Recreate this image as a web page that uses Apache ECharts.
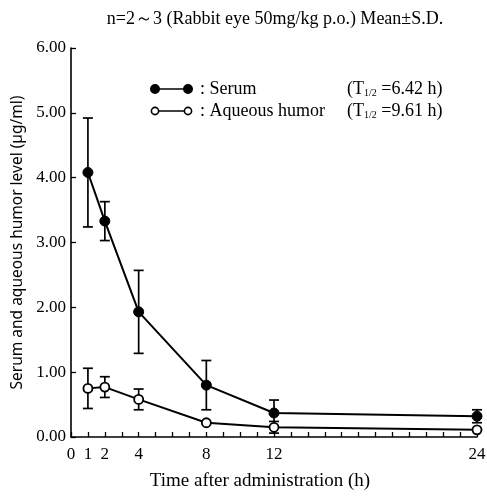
<!DOCTYPE html>
<html>
<head>
<meta charset="utf-8">
<script src="https://cdn.jsdelivr.net/npm/echarts@6/dist/echarts.min.js"></script>
<style>
  html, body { margin: 0; padding: 0; background: #fff; }
  #chart { width: 487px; height: 498px; }
</style>
</head>
<body>
<div id="chart"></div>
<script>
// time points (h)
const hours = [1, 2, 4, 8, 12, 24]
const xTickLabels = [0, 1, 2, 4, 8, 12, 24]
const yTickLabels = [0, 1, 2, 3, 4, 5, 6]

// mean and S.D. (µg/ml)
const serumMean = [4.08, 3.33, 1.93, 0.80, 0.37, 0.32]
const serumSD = [0.84, 0.30, 0.64, 0.38, 0.20, 0.10]
const aqueousMean = [0.75, 0.77, 0.58, 0.22, 0.15, 0.11]
const aqueousSD = [0.31, 0.16, 0.16, 0.00, 0.09, 0.00]

const serif = '"Liberation Serif", "DejaVu Serif", serif'
const myChart = echarts.init(document.getElementById('chart'))

const toPoints = (means) => hours.map((h, i) => [h, means[i]])
const toBars = (means, sds) => hours.map((h, i) => [h, means[i] - sds[i], means[i] + sds[i]])

// error bars drawn with a custom series
const errorSeries = (means, sds) => ({
  type: 'custom',
  silent: true,
  z: 1,
  data: toBars(means, sds),
  renderItem: function (params, api) {
    const lo = api.coord([api.value(0), api.value(1)])
    const hi = api.coord([api.value(0), api.value(2)])
    const w = 5
    const style = { stroke: '#000', lineWidth: 1.7 }
    return {
      type: 'group',
      children: [
        { type: 'line', shape: { x1: lo[0], y1: lo[1], x2: hi[0], y2: hi[1] }, style: style },
        { type: 'line', shape: { x1: lo[0] - w, y1: lo[1], x2: lo[0] + w, y2: lo[1] }, style: style },
        { type: 'line', shape: { x1: hi[0] - w, y1: hi[1], x2: hi[0] + w, y2: hi[1] }, style: style }
      ]
    }
  }
})

// legend drawn by hand: line with a marker on both ends
const legendRow = (y, filled, name, half) => [
  { type: 'line', shape: { x1: 155, y1: y, x2: 188, y2: y }, style: { stroke: '#000', lineWidth: 1.6 } },
  { type: 'circle', shape: { cx: 155, cy: y, r: filled ? 4.2 : 3.6 }, style: { fill: filled ? '#000' : '#fff', stroke: '#000', lineWidth: 1.6 } },
  { type: 'circle', shape: { cx: 188, cy: y, r: filled ? 4.2 : 3.6 }, style: { fill: filled ? '#000' : '#fff', stroke: '#000', lineWidth: 1.6 } },
  { type: 'text', x: 200, y: y, style: { text: ': ' + name, font: '18px ' + serif, fill: '#000', verticalAlign: 'middle' } },
  { type: 'text', x: 347, y: y, style: {
      text: '(T{s|1/2} =' + half + ' h)',
      rich: { s: { fontSize: 10, fontFamily: serif, fill: '#000', verticalAlign: 'bottom' } },
      font: '18px ' + serif, fill: '#000', verticalAlign: 'middle' } }
]

myChart.setOption({
  animation: false,
  backgroundColor: '#fff',
  title: {
    text: 'n=2～3 (Rabbit eye 50mg/kg p.o.) Mean±S.D.',
    left: 270,
    textAlign: 'center',
    top: 5,
    textStyle: { fontFamily: serif, fontSize: 18, fontWeight: 'normal', color: '#000' }
  },
  grid: { left: 71, right: 10, top: 48, bottom: 61, containLabel: false, outerBoundsMode: 'none' },
  xAxis: {
    type: 'value',
    min: 0,
    max: 24,
    interval: 1,
    name: 'Time after administration (h)',
    nameLocation: 'middle',
    nameGap: 35,
    nameTextStyle: { fontFamily: serif, fontSize: 19, color: '#000', padding: [0, 28, 0, 0] },
    axisLine: { lineStyle: { color: '#000', width: 1.6 } },
    axisTick: { inside: true, length: 5, lineStyle: { color: '#000', width: 1.3 } },
    splitLine: { show: false },
    axisLabel: {
      fontFamily: serif, fontSize: 17, color: '#000', margin: 9,
      formatter: v => (xTickLabels.includes(v) ? String(v) : '')
    }
  },
  yAxis: {
    type: 'value',
    min: 0,
    max: 6,
    interval: 1,
    name: 'Serum and aqueous humor level (µg/ml)',
    nameLocation: 'middle',
    nameGap: 43,
    nameTextStyle: { fontFamily: '"Noto Sans", "DejaVu Sans", sans-serif', fontSize: 15.5, color: '#000' },
    axisLine: { lineStyle: { color: '#000', width: 1.6 } },
    axisTick: { inside: true, length: 5, lineStyle: { color: '#000', width: 1.3 } },
    splitLine: { show: false },
    axisLabel: {
      fontFamily: serif, fontSize: 17, color: '#000', margin: 5,
      formatter: v => (yTickLabels.includes(v) ? v.toFixed(2) : '')
    }
  },
  series: [
    errorSeries(serumMean, serumSD),
    errorSeries(aqueousMean, aqueousSD),
    {
      name: 'Serum',
      type: 'line',
      z: 3,
      data: toPoints(serumMean),
      symbol: 'circle',
      symbolSize: 10,
      itemStyle: { color: '#000', borderColor: '#000', borderWidth: 1 },
      lineStyle: { color: '#000', width: 2 }
    },
    {
      name: 'Aqueous humor',
      type: 'line',
      z: 3,
      data: toPoints(aqueousMean),
      symbol: 'circle',
      symbolSize: 9,
      itemStyle: { color: '#fff', borderColor: '#000', borderWidth: 1.8 },
      lineStyle: { color: '#000', width: 2 }
    }
  ],
  graphic: [
    ...legendRow(89, true, 'Serum', '6.42'),
    ...legendRow(111, false, 'Aqueous humor', '9.61')
  ]
})
</script>
</body>
</html>
